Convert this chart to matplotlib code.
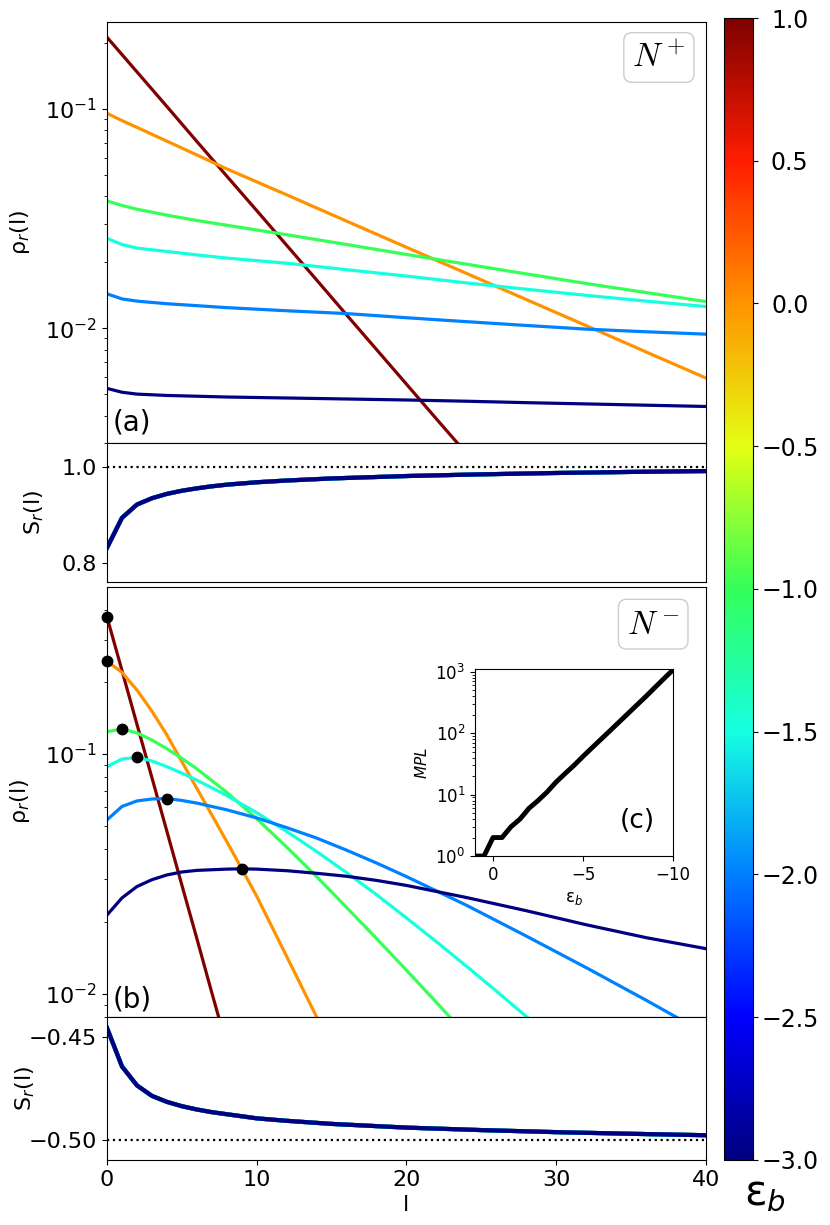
import numpy as np
import matplotlib
matplotlib.use('Agg')
import matplotlib.pyplot as plt
from matplotlib import cm, colors

# binding energies of the six curves (colour from a jet-like map, -3..1)
eps_vals = [1.0, 0.0, -1.0, -1.5, -2.0, -3.0]
cbar_ticks = [-3.0, -2.5, -2.0, -1.5, -1.0, -0.5, 0.0, 0.5, 1.0]

# ---- panel (a): N+ ----
la_red = [0, 2, 4, 6, 8, 10, 12, 14, 16, 18, 20, 22, 24]
rho_a_red = [0.2123, 0.1476, 0.1026, 0.0711, 0.0494, 0.0344, 0.0239,
             0.0166, 0.01151, 0.0080, 0.00556, 0.00386, 0.00269]
la = [0, 1, 2, 4, 6, 8, 12, 16, 20, 24, 28, 32, 36, 40]
rho_a_orange = [0.0955, 0.0885, 0.0824, 0.0713, 0.0617, 0.0533, 0.0406,
                0.0308, 0.0234, 0.0178, 0.01352, 0.01028, 0.0078, 0.00593]
rho_a_green = [0.0381, 0.0363, 0.0349, 0.0328, 0.0310, 0.0295, 0.0267,
               0.0241, 0.0217, 0.0196, 0.0177, 0.0160, 0.01455, 0.01324]
rho_a_cyan = [0.0257, 0.0241, 0.0232, 0.0224, 0.0216, 0.0209, 0.0198,
              0.0185, 0.0173, 0.0161, 0.01507, 0.01413, 0.0133, 0.01256]
rho_a_blue = [0.01436, 0.01361, 0.01330, 0.01294, 0.01268, 0.01242, 0.01202,
              0.01167, 0.01117, 0.01072, 0.01030, 0.00991, 0.00964, 0.00940]
rho_a_navy = [0.00532, 0.00511, 0.00501, 0.00494, 0.00490, 0.00486, 0.00481,
              0.00476, 0.00471, 0.00465, 0.00458, 0.00452, 0.00446, 0.00440]

# ---- panel (b): N- ----
lb_red = [0, 1, 2, 3, 4, 5, 6, 7, 8]
rho_b_red = [0.373, 0.223, 0.133, 0.0797, 0.0476, 0.0284, 0.0170, 0.0101, 0.00606]
lb_orange = [0, 1, 2, 3, 4, 5, 6, 7, 8, 9, 10, 11, 12, 13, 14]
rho_b_orange = [0.244, 0.219, 0.1848, 0.151, 0.120, 0.0929, 0.0719, 0.0557,
                0.0431, 0.0332, 0.0255, 0.0191, 0.0143, 0.0107, 0.0080]
lb_green = [0, 1, 2, 3, 4, 5, 6, 8, 10, 12, 14, 16, 18, 20, 22, 24]
rho_b_green = [0.1239, 0.1271, 0.1225, 0.1143, 0.1052, 0.0959, 0.0867, 0.0692,
               0.0537, 0.0409, 0.0308, 0.0229, 0.0170, 0.01253, 0.00920, 0.00673]
lb_cyan = [0, 1, 2, 3, 4, 5, 6, 8, 10, 12, 14, 16, 18, 20, 22, 24, 26, 28, 30]
rho_b_cyan = [0.0885, 0.0953, 0.0968, 0.0935, 0.0885, 0.0832, 0.0778, 0.0671,
              0.0569, 0.0475, 0.0392, 0.0320, 0.0259, 0.0207, 0.01648, 0.01303,
              0.01026, 0.00804, 0.00627]
lb_blue = [0, 1, 2, 3, 4, 5, 6, 8, 10, 12, 14, 16, 18, 20, 24, 28, 32, 36, 38, 40]
rho_b_blue = [0.0531, 0.0604, 0.0637, 0.0649, 0.0652, 0.0640, 0.0624, 0.0585,
              0.0541, 0.0493, 0.0446, 0.0397, 0.0351, 0.0308, 0.0234, 0.0174,
              0.01285, 0.0094, 0.0080, 0.0068]
lb_navy = [0, 1, 2, 3, 4, 5, 6, 8, 9, 10, 12, 14, 16, 18, 20, 24, 28, 32, 36, 40]
rho_b_navy = [0.0213, 0.0251, 0.0280, 0.0299, 0.0313, 0.0322, 0.0327, 0.0331,
              0.0332, 0.0331, 0.0326, 0.0318, 0.0309, 0.0297, 0.0283, 0.0252,
              0.0222, 0.0194, 0.01714, 0.01542]

# ---- S_r(l), same for all curves ----
ls = [0, 1, 2, 3, 4, 5, 6, 7, 8, 10, 12, 15, 20, 25, 30, 35, 40]
S_plus = [0.8317, 0.8938, 0.9214, 0.9345, 0.9435, 0.9500, 0.9550, 0.9592,
          0.9626, 0.9676, 0.9712, 0.9755, 0.9805, 0.9840, 0.9868, 0.9890, 0.9908]
S_minus = [-0.4456, -0.4643, -0.4735, -0.4786, -0.4815, -0.4836, -0.4852,
           -0.4865, -0.4875, -0.4895, -0.4907, -0.4922, -0.4940, -0.4952,
           -0.4962, -0.4970, -0.4977]

# ---- inset (c): most probable length ----
eps_mpl = [1.0, 0.5, 0.0, -0.5, -1.0, -1.5, -2.0, -2.5, -3.0, -3.5, -4.0, -4.5,
           -5.0, -5.5, -6.0, -6.5, -7.0, -7.5, -8.0, -8.5, -9.0, -9.5, -10.0]
mpl_vals = [1, 1, 2, 2, 3, 4, 6, 8, 11, 16, 22, 30, 42, 58, 80, 110, 152, 210,
            290, 400, 560, 780, 1080]

# jet with a more saturated green in the middle, as in the original
nodes = [cm.jet(v) for v in np.linspace(0, 1, 9)]
nodes[4] = (0.2, 1.0, 0.35, 1.0)
cmap = colors.LinearSegmentedColormap.from_list('jet_b', nodes)
norm = colors.Normalize(vmin=-3, vmax=1)
cols = [cmap(norm(e)) for e in eps_vals]

fig = plt.figure(figsize=(8.3, 12.25), dpi=100)
L, W = 0.1289, 0.7217
ax_a = fig.add_axes([L, 0.6384, W, 0.982 - 0.6384])
ax_sa = fig.add_axes([L, 0.5249, W, 0.6384 - 0.5249], sharex=ax_a)
ax_b = fig.add_axes([L, 0.1698, W, 0.5208 - 0.1698], sharex=ax_a)
ax_sb = fig.add_axes([L, 0.0531, W, 0.1698 - 0.0531], sharex=ax_a)

lw = 2.3
curves_a = [(la_red, rho_a_red), (la, rho_a_orange), (la, rho_a_green),
            (la, rho_a_cyan), (la, rho_a_blue), (la, rho_a_navy)]
for (x, y), c in zip(curves_a, cols):
    ax_a.plot(x, y, color=c, lw=lw)
ax_a.set_yscale('log')
ax_a.set_ylim(0.003, 0.249)
ax_a.set_xlim(0, 40)

curves_b = [(lb_red, rho_b_red), (lb_orange, rho_b_orange), (lb_green, rho_b_green),
            (lb_cyan, rho_b_cyan), (lb_blue, rho_b_blue), (lb_navy, rho_b_navy)]
for (x, y), c in zip(curves_b, cols):
    ax_b.plot(x, y, color=c, lw=lw)
for x, y in curves_b:
    i = int(np.argmax(y))
    ax_b.plot(x[i], y[i], 'o', color='k', ms=7.5, zorder=5, clip_on=False)
ax_b.set_yscale('log')
ax_b.set_ylim(0.008, 0.497)

for c in cols:
    ax_sa.plot(ls, S_plus, color=c, lw=3)
    ax_sb.plot(ls, S_minus, color=c, lw=3)
ax_sa.axhline(1.0, color='k', ls=':', lw=1.6)
ax_sb.axhline(-0.5, color='k', ls=':', lw=1.6)
ax_sa.set_ylim(0.761, 1.049)
ax_sa.set_yticks([0.8, 1.0])
ax_sb.set_ylim(-0.5097, -0.4403)
ax_sb.set_yticks([-0.50, -0.45])
ax_sb.set_yticklabels(['\u22120.50', '\u22120.45'])
ax_sb.set_xticks([0, 10, 20, 30, 40])

for ax in (ax_a, ax_sa, ax_b, ax_sb):
    ax.tick_params(labelsize=16)
for ax in (ax_a, ax_sa, ax_b):
    ax.tick_params(axis='x', bottom=False, labelbottom=False)

ax_a.set_ylabel('\u03c1$_r$(l)', fontsize=16)
ax_b.set_ylabel('\u03c1$_r$(l)', fontsize=16)
ax_sa.set_ylabel('S$_r$(l)', fontsize=16)
ax_sb.set_ylabel('S$_r$(l)', fontsize=16)
ax_a.yaxis.set_label_coords(-0.125, 0.5)
ax_b.yaxis.set_label_coords(-0.125, 0.5)
ax_sa.yaxis.set_label_coords(-0.102, 0.5)
ax_sb.yaxis.set_label_coords(-0.117, 0.5)
ax_sb.set_xlabel('l', fontsize=16)

box = dict(boxstyle='round,pad=0.25', fc='white', ec='0.8')
ax_a.text(0.966, 0.955, '$N^+$', transform=ax_a.transAxes, ha='right', va='top',
          fontsize=24, math_fontfamily='cm', bbox=box)
ax_b.text(0.956, 0.952, '$N^-$', transform=ax_b.transAxes, ha='right', va='top',
          fontsize=24, math_fontfamily='cm', bbox=box)
ax_a.text(0.01, 0.015, '(a)', transform=ax_a.transAxes, fontsize=20,
          ha='left', va='bottom')
ax_b.text(0.01, 0.008, '(b)', transform=ax_b.transAxes, fontsize=20,
          ha='left', va='bottom')

# inset
ax_c = fig.add_axes([0.5723, 0.3012, 0.2386, 0.1524])
ax_c.plot(eps_mpl, mpl_vals, color='k', lw=3.5)
ax_c.set_yscale('log')
ax_c.set_xlim(1, -10)
ax_c.set_ylim(1, 1100)
ax_c.set_xticks([0, -5, -10])
ax_c.tick_params(labelsize=12)
ax_c.set_ylabel('$MPL$', fontsize=11)
ax_c.set_xlabel('\u03b5$_b$', fontsize=12)
ax_c.text(0.91, 0.12, '(c)', transform=ax_c.transAxes, fontsize=19,
          ha='right', va='bottom')

# colorbar
cax = fig.add_axes([0.8723, 0.0531, 0.0349, 0.9322])
sm = cm.ScalarMappable(norm=norm, cmap=cmap)
cb = fig.colorbar(sm, cax=cax)
cb.set_ticks(cbar_ticks)
cb.ax.set_yticklabels([f'{t:.1f}'.replace('-', '\u2212') for t in cbar_ticks],
                      ha='center', fontsize=17)
cb.ax.tick_params(pad=23)
fig.text(0.922, 0.026, '\u03b5$_b$', fontsize=30, ha='center', va='center')

fig.savefig('out.png', dpi=100)
